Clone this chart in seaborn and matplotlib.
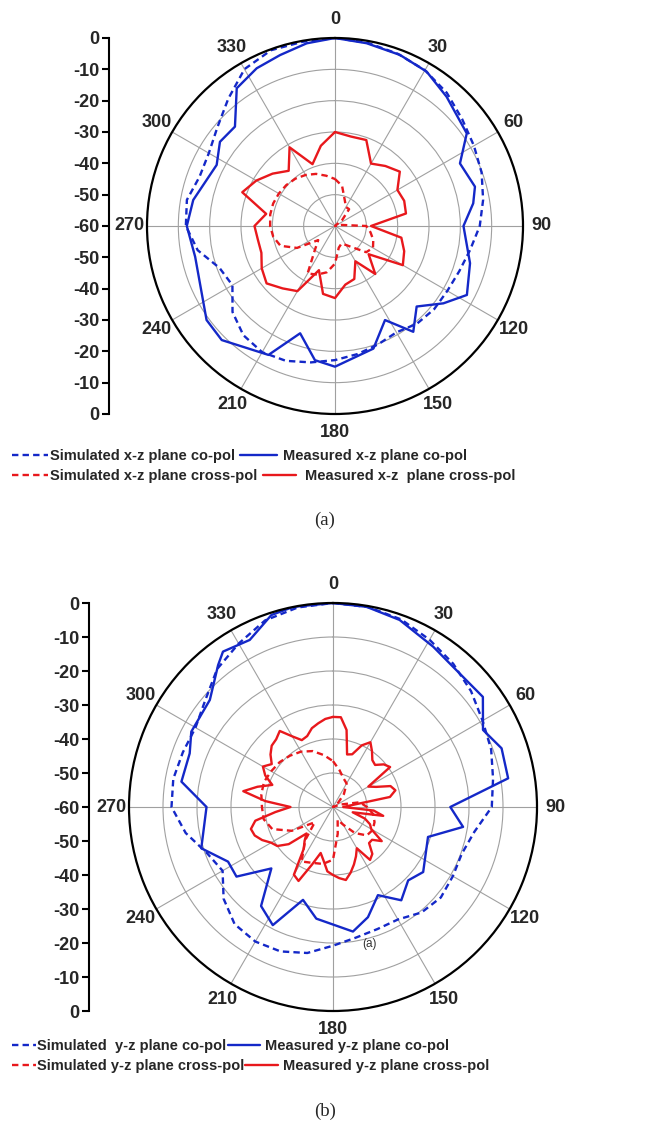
import numpy as np
import pandas as pd
import matplotlib
matplotlib.use("Agg")
import matplotlib.pyplot as plt
import seaborn as sns

# ---------------- data (dB, angle in degrees, 0 at top, clockwise) ----------------
ang10 = list(range(0, 360, 10))
ang5 = list(range(0, 360, 5))

# (a) x-z plane
sim_co_a = [0, -0.6, -1.5, -2.6, -4.5, -7.0, -8.8, -10.2, -12.0, -13.8, -16.2, -17.8,
            -18.6, -18.7, -19.3, -20.8, -19.8, -18.5, -17.2, -15.8, -14.2, -13.5, -14.5, -17.3,
            -22.2, -20.8, -15.5, -12.4, -12.0, -14.0, -13.5, -11.0, -7.0, -2.2, -0.3, -0.3]
meas_co_a_deg = [0, 9.8, 20.8, 30.7, 40.8, 54.9, 63.4, 74.3, 80.7, 90, 105.4, 117.6, 125.5,
                 134.6, 143.5, 152, 162.6, 180, 188.5, 198, 207.3, 224.8, 233.8, 257.6, 270,
                 280.4, 297.3, 306.2, 314.8, 324.5, 333.6, 342.2, 351.2]
meas_co_a = [0, -0.8, -1.6, -2.7, -5.5, -8.6, -15.4, -13.6, -15.3, -19, -15.3, -12.5, -17.5,
             -23.4, -18, -26, -19, -15.1, -16.7, -24, -13.7, -8.7, -9.2, -14.3, -12.7,
             -14, -17.5, -14.5, -15, -6, -3.8, -2.7, -1.0]
sim_x_a = [-45, -47, -51, -53, -53, -57, -60, -60, -58, -50, -48.5, -47, -46, -47, -51, -53,
           -54, -53, -48, -45, -43.5, -42.5, -50, -53, -46, -41.5, -40, -39.3, -39, -39,
           -39.3, -39.7, -40.3, -41.2, -42.3, -43.7]
meas_x_a = [-30, -31, -30.8, -37, -35, -33, -37, -36.5, -37, -48.5, -38.5, -36.5, -35, -46,
            -40, -47, -42, -41, -37, -38, -45, -36, -34, -31.5, -33, -35, -35, -34.3, -37.7,
            -28.5, -31, -34, -37, -31, -39, -34]

# (b) y-z plane
sim_co_b = [0, -0.3, -1.3, -3.2, -5.0, -7.0, -9.2, -10.5, -12.2, -13.3, -17.8, -19.7,
            -19.3, -18.6, -19.5, -21.8, -21.8, -21.0, -19.2, -16.4, -14.8, -14.3, -15.0, -18.0,
            -22.5, -20.5, -16.0, -12.5, -12.3, -13.0, -13.3, -11.0, -7.0, -4.5, -1.6, -0.4]
meas_co_b_deg = [0, 9.5, 19.6, 32, 44.9, 53.7, 62.8, 70.8, 80.7, 90, 98.7, 107.5, 125.8,
                 134.3, 143.8, 153, 162.4, 170.9, 188.5, 197.9, 207, 216, 225.1, 234.2, 242.5,
                 252.6, 270, 279.5, 290.5, 298, 311, 321, 324.7, 333.5, 342.2, 348.7]
meas_co_b = [0, -0.3, -1.6, -4.4, -5.9, -5.3, -10.4, -7.5, -7.8, -25.5, -21.3, -30.7, -27.3,
             -29.1, -26, -30.9, -26, -22.9, -26.8, -31.3, -21, -24, -34.4, -25, -25.2,
             -19.4, -22.8, -14.8, -15, -12.8, -12, -6.3, -4, -5.1, -0.7, 0]
sim_x_b = [-46.5, -49, -51, -52, -55, -58, -60, -58, -52, -50, -48, -47, -46.5, -47, -50,
           -54, -56, -52, -44.5, -43, -42.5, -41.5, -47.3, -53, -46, -41, -39.3, -39.1,
           -38.6, -38.4, -39, -39.5, -40.3, -41.2, -42.5, -44.5]
meas_x_b = [-33.5, -33.5, -37, -44, -43.5, -40, -38, -40, -42, -42.5, -40.5, -39.5, -48, -46,
            -42, -41, -43, -55, -57, -48, -45, -54, -50, -48, -47, -42.5, -45, -45, -42, -41,
            -46, -44, -42, -40, -38.2, -39, -40, -41, -44, -46, -42, -36, -37, -45, -47, -49,
            -43, -40, -39, -37, -35.5, -35, -36.8, -43, -47.5, -40, -33.2, -37, -41, -38,
            -36.2, -38, -36, -34.5, -34, -32.7, -36, -38.3, -37.8, -36, -35, -34]

theta_labels = ["0", "30", "60", "90", "120", "150", "180", "210", "240", "270", "300", "330"]
side_positions = list(range(-60, 61, 10))
side_labels = ["0", "-10", "-20", "-30", "-40", "-50", "-60", "-50", "-40", "-30", "-20", "-10", "0"]

leg_a = ["Simulated x-z plane co-pol", "Measured x-z plane co-pol",
         "Simulated x-z plane cross-pol", "Measured x-z  plane cross-pol"]
leg_b = ["Simulated  y-z plane co-pol", "Measured y-z plane co-pol",
         "Simulated y-z plane cross-pol", "Measured y-z plane cross-pol"]

# ---------------- style ----------------
sns.set_theme(style="white")
plt.rcParams["font.family"] = ["Liberation Sans", "DejaVu Sans"]
plt.rcParams["lines.scale_dashes"] = False

BLUE = "#1428c8"
RED = "#e8181c"
W, H = 651, 1126
fig = plt.figure(figsize=(W / 100, H / 100), dpi=100)


def closed(deg, vals):
    d = list(deg) + [360]
    v = list(vals) + [vals[0]]
    return pd.DataFrame({"theta": np.deg2rad(d), "db": v})


def draw_panel(cx, cy, R, axis_x, series, legend_texts, leg_rows, caption, cap_y):
    rect = [(cx - R) / W, 1 - (cy + R) / H, 2 * R / W, 2 * R / H]
    ax = fig.add_axes(rect, projection="polar")
    ax.set_theta_zero_location("N")
    ax.set_theta_direction(-1)
    handles = []
    for deg, vals, col, dashed in series:
        df = closed(deg, vals)
        sns.lineplot(data=df, x="theta", y="db", ax=ax, sort=False, estimator=None,
                     color=col, lw=1.7)
        ln = ax.lines[-1]
        if dashed:
            ln.set_dashes([4.6, 3.0])
        handles.append(ln)
    ax.set_ylim(-60, 0)
    ax.set_yticks([-50, -40, -30, -20, -10])
    ax.set_yticklabels([])
    ax.set_xlabel("")
    ax.set_ylabel("")
    ax.set_thetagrids(range(0, 360, 30), labels=theta_labels, fontsize=13, fontweight="bold")
    ax.tick_params(axis="x", pad=6, direction="in", length=5, width=1.3, color="black")
    ax.grid(True, color="#a0a0a0", lw=0.8)
    ax.spines["polar"].set_color("black")
    ax.spines["polar"].set_linewidth(1.6)
    ax.set_facecolor("none")

    # side dB scale
    lax = fig.add_axes([axis_x / W, rect[1], 0.0001, rect[3]])
    lax.set_ylim(-60, 60)
    lax.set_yticks(side_positions)
    lax.set_yticklabels(side_labels, fontsize=13, fontweight="bold")
    for s in ["top", "right", "bottom"]:
        lax.spines[s].set_visible(False)
    lax.spines["left"].set_color("black")
    lax.spines["left"].set_linewidth(1.5)
    lax.set_xticks([])
    lax.tick_params(axis="y", left=True, length=5, width=1.5, pad=2, color="black")
    lax.set_facecolor("none")

    # legend entries: (handle index, x start px, y px, handle px, pad px)
    fs = 10.5
    fpx = fs * 100 / 72
    for idx, x0, y0, hl, hp in leg_rows:
        fig.legend(handles=[handles[idx]], labels=[legend_texts[idx]], loc="center left",
                   bbox_to_anchor=(x0 / W, 1 - y0 / H), frameon=False, borderpad=0,
                   borderaxespad=0, handlelength=hl / fpx, handletextpad=hp / fpx,
                   prop={"family": ["Liberation Sans", "DejaVu Sans"],
                         "weight": "bold", "size": fs})
    fig.text(325 / W, 1 - cap_y / H, caption, ha="center", va="center",
             family=["Liberation Serif", "DejaVu Serif"], fontsize=13.5)
    return ax


ax_a = draw_panel(335, 226, 188, 109,
                  [(ang10, sim_co_a, BLUE, True), (meas_co_a_deg, meas_co_a, BLUE, False),
                   (ang10, sim_x_a, RED, True), (ang10, meas_x_a, RED, False)],
                  leg_a,
                  [(0, 12, 456, 36, 2), (1, 240, 456, 37, 6),
                   (2, 12, 476, 36, 2), (3, 263, 476, 33, 9)],
                  "(a)", 520)

ax_b = draw_panel(333, 807, 204, 89,
                  [(ang10, sim_co_b, BLUE, True), (meas_co_b_deg, meas_co_b, BLUE, False),
                   (ang10, sim_x_b, RED, True), (ang5, meas_x_b, RED, False)],
                  leg_b,
                  [(0, 12, 1046, 24, 1), (1, 228, 1046, 32, 5),
                   (2, 12, 1066, 24, 1), (3, 245, 1066, 33, 5)],
                  "(b)", 1111)
ax_b.text(np.deg2rad(165), -18.3, "(a)", fontsize=8.5, color="#333333",
          ha="center", va="center")

fig.savefig("out.png", dpi=100)
